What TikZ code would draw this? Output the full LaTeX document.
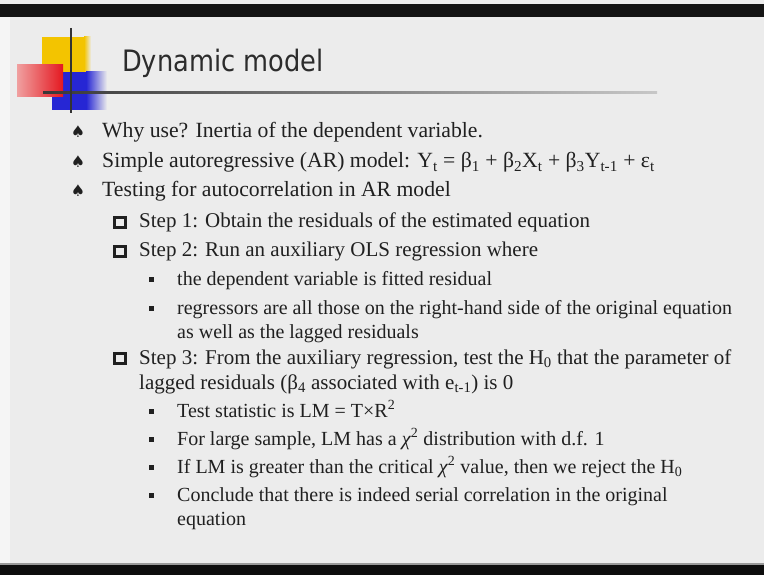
\documentclass[tikz,border=0pt]{standalone}
\usepackage{fontspec}
\setmainfont{Liberation Serif}
\newfontfamily\titlefont[FakeStretch=0.87]{DejaVu Sans}
\newfontfamily\symfont{DejaVu Sans}
\usetikzlibrary{positioning}
\definecolor{slidebg}{RGB}{236,236,236}
\definecolor{ink}{RGB}{32,32,32}
\definecolor{titleink}{RGB}{44,44,44}
\definecolor{logoyellow}{RGB}{243,196,0}
\definecolor{logored}{RGB}{228,24,32}
\definecolor{logopink}{RGB}{240,160,160}
\definecolor{logoblue}{RGB}{38,38,212}
\newcommand{\subtx}[1]{\textsubscript{#1}}
\newcommand{\suptx}[1]{\textsuperscript{#1}}

\begin{document}
\begin{tikzpicture}[x=1pt, y=-1pt,
  item/.style={anchor=base west, inner sep=0pt, text=ink,
    font=\fontsize{20}{24}\selectfont},
  itemtop/.style={item, font=\fontsize{21.7}{24}\selectfont},
  itemmid/.style={item, font=\fontsize{21}{24}\selectfont},
  spade/.style={anchor=base, inner sep=0pt, text=ink,
    font=\symfont\fontsize{16}{16}\selectfont},
  hollow/.style={draw=ink, line width=2.8pt},
  dot/.style={fill=ink}]
\useasboundingbox (0,0) rectangle (764,575);
% slide frame
\fill[slidebg] (0,0) rectangle (764,575);
\fill[black!92] (0,4) rectangle (764,17);
\fill[white!96!black] (0,17) rectangle (10,563);
\fill[black!40] (0,563) rectangle (764,565);
\fill[black!95] (0,565) rectangle (764,575);
% logo
\fill[logoyellow] (42,37) rectangle (84,72);
\shade[left color=logoyellow, right color=slidebg] (84,37) rectangle (91,72);
\fill[logoblue] (52,72) rectangle (86,110);
\shade[left color=logoblue, right color=slidebg] (86,72) rectangle (107,110);
\shade[left color=logopink, right color=logored] (17,65) rectangle (63,97);
\shade[left color=black!78, middle color=black!72, right color=black!22] (43,92) rectangle (657,94);
\draw[black!80, line width=1.5pt] (71,28) -- (71,113);
\node[anchor=base west, inner sep=0pt, text=titleink,
  font=\titlefont\fontsize{29.5}{30}\selectfont] (title) at (122,72) {Dynamic model};
% level one
\node[spade] (b1) at (78,138) {♠};
\node[spade] (b2) at (78,168) {♠};
\node[spade] (b3) at (78,197) {♠};
\node[itemtop] (why) at (102,138) {Why use? Inertia of the dependent variable.};
\node[itemtop] (simple) at (102,168) {Simple autoregressive (AR) model: Y\subtx{t} = β\subtx{1} + β\subtx{2}X\subtx{t} + β\subtx{3}Y\subtx{t-1} + ε\subtx{t}};
\node[itemtop] (testing) at (102,197) {Testing for autocorrelation in AR model};
% level two
\draw[hollow] (114.5,217.5) rectangle (125.5,227.5);
\draw[hollow] (114.5,246.5) rectangle (125.5,256.5);
\draw[hollow] (114.5,353.5) rectangle (125.5,363.5);
\node[itemmid] (step1) at (139,228) {Step 1: Obtain the residuals of the estimated equation};
\node[itemmid] (step2) at (139,257) {Step 2: Run an auxiliary OLS regression where};
\node[itemmid] (step3) at (139,364) {Step 3: From the auxiliary regression, test the H\subtx{0} that the parameter of};
\node[itemmid] (param) at (139,389) {lagged residuals (β\subtx{4} associated with e\subtx{t-1}) is 0};
% level three
\fill[dot] (149,277) rectangle (154,282);
\fill[dot] (149,306) rectangle (154,311);
\fill[dot] (149,409) rectangle (154,414);
\fill[dot] (149,437) rectangle (154,442);
\fill[dot] (149,465) rectangle (154,470);
\fill[dot] (149,493) rectangle (154,498);
\node[item] (fitted) at (177,285) {the dependent variable is fitted residual};
\node[item] (regress) at (177,314) {regressors are all those on the right-hand side of the original equation};
\node[item] (lagged) at (177,338) {as well as the lagged residuals};
\node[item] (lm) at (177,417) {Test statistic is LM~=~T×R\suptx{2}};
\node[item] (chi) at (177,445) {For large sample, LM has a \textit{χ}\suptx{2} distribution with d.f. 1};
\node[item] (reject) at (177,473) {If LM is greater than the critical \textit{χ}\suptx{2} value, then we reject the H\subtx{0}};
\node[item] (serial) at (177,501) {Conclude that there is indeed serial correlation in the original};
\node[item] (serialb) at (177,525) {equation};
\end{tikzpicture}
\end{document}
